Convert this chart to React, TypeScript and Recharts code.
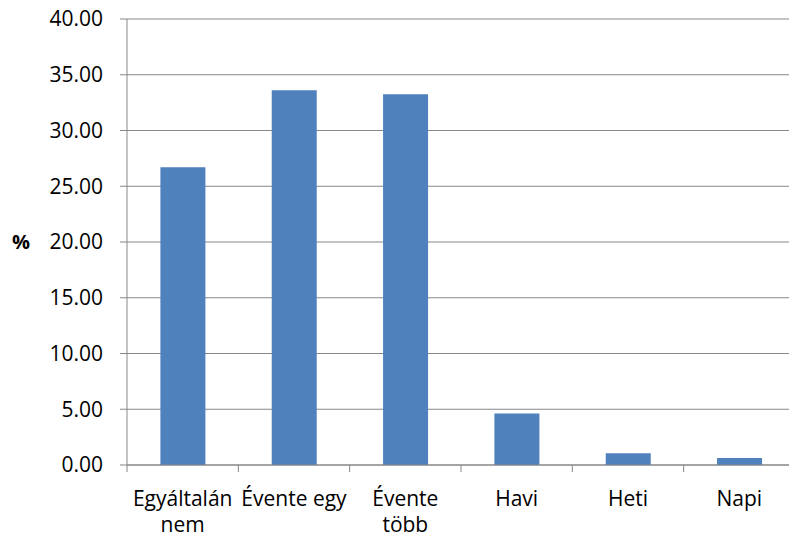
import { Bar, BarChart, CartesianGrid, XAxis, YAxis } from "recharts";

const categories: string[] = [
  "Egyáltalán nem",
  "Évente egy",
  "Évente több",
  "Havi",
  "Heti",
  "Napi",
];
const percents: number[] = [26.7, 33.6, 33.25, 4.63, 1.05, 0.63];
const yTicks: number[] = [0, 5, 10, 15, 20, 25, 30, 35, 40];

const data = categories.map((name, i) => ({ name, value: percents[i] }));

const FONT = "'Open Sans', sans-serif";
const FONT_SIZE = 21;
const GRAY = "#878787";
const BAND = 668 / categories.length;

// wrap words the way Excel does when a label is wider than its category
let ctx: CanvasRenderingContext2D | null = null;
const wrap = (label: string): string[] => {
  if (!ctx) ctx = document.createElement("canvas").getContext("2d");
  if (!ctx) return [label];
  ctx.font = `${FONT_SIZE}px 'Open Sans'`;
  const lines: string[] = [];
  let cur = "";
  for (const word of label.split(" ")) {
    const next = cur ? cur + " " + word : word;
    if (cur && ctx.measureText(next).width > BAND - 2) {
      lines.push(cur);
      cur = word;
    } else {
      cur = next;
    }
  }
  lines.push(cur);
  return lines;
};

const CategoryTick = (props: any) => {
  const { x, y, payload } = props;
  const lines = wrap(payload.value);
  return (
    <g>
      <line x1={x - BAND / 2} y1={465} x2={x - BAND / 2} y2={472} stroke={GRAY} />
      <text
        x={x}
        y={y}
        textAnchor="middle"
        fontFamily={FONT}
        fontSize={FONT_SIZE}
        fill="#000"
      >
        {lines.map((line, i) => (
          <tspan key={i} x={x} dy={i === 0 ? 14 : 26}>
            {line}
          </tspan>
        ))}
      </text>
    </g>
  );
};

export default function App() {
  return (
    <div
      style={{
        position: "absolute",
        left: 0,
        top: 0,
        width: 789,
        height: 539,
        overflow: "hidden",
        background: "#fff",
      }}
    >
      <BarChart
        width={800}
        height={539}
        data={data}
        margin={{ top: 19, right: 5, left: 0, bottom: 0 }}
        barCategoryGap="30%"
      >
        <CartesianGrid vertical={false} stroke={GRAY} strokeWidth={1.2} />
        <XAxis
          dataKey="name"
          height={74}
          interval={0}
          stroke={GRAY}
          tickLine={false}
          tickSize={7}
          tickMargin={20}
          tick={<CategoryTick />}
        />
        <YAxis
          width={127}
          domain={[0, 40]}
          ticks={yTicks}
          interval={0}
          stroke={GRAY}
          tickSize={7}
          tickMargin={17}
          tickFormatter={(v: number) => v.toFixed(2)}
          tick={{ fill: "#000", fontFamily: FONT, fontSize: FONT_SIZE }}
          label={{
            value: "%",
            position: "insideLeft",
            offset: 12,
            style: { fontFamily: FONT, fontSize: 20, fontWeight: "bold", fill: "#000" },
          }}
        />
        <Bar dataKey="value" fill="#4F81BD" isAnimationActive={false} />
      </BarChart>
    </div>
  );
}
